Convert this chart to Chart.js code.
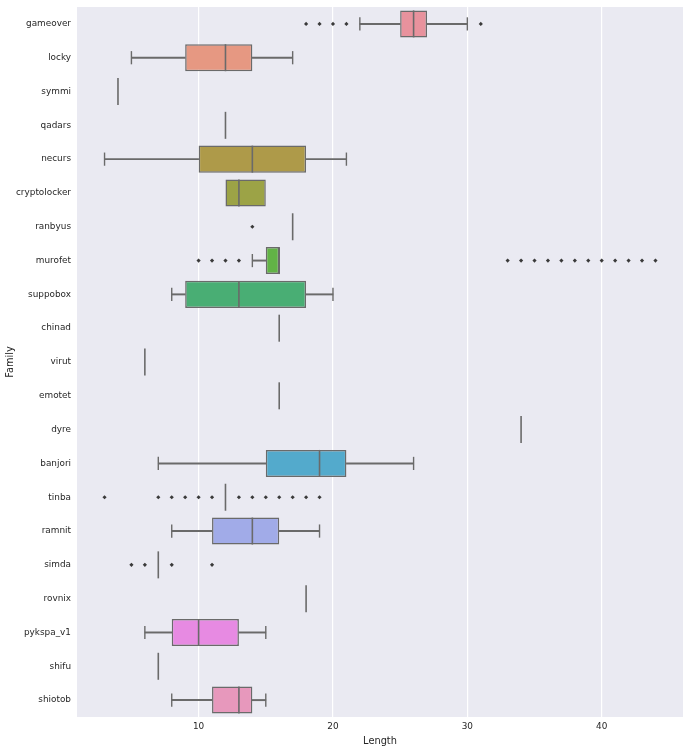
<!DOCTYPE html>
<html><head><meta charset="utf-8">
<script src="https://cdn.jsdelivr.net/npm/chart.js@4.4.1/dist/chart.umd.min.js"></script>
<style>html,body{margin:0;padding:0;background:#fff;} #wrap{width:690px;height:747px;}</style>
</head><body><div id="wrap"><canvas id="c" width="690" height="747"></canvas></div>
<script>
const families = ['gameover','locky','symmi','qadars','necurs','cryptolocker','ranbyus','murofet','suppobox','chinad','virut','emotet','dyre','banjori','tinba','ramnit','simda','rovnix','pykspa_v1','shifu','shiotob'];
const whiskerLow  = [22, 5, 4,12, 3,12,17,14, 8,16, 6,16,34, 7,12, 8, 7,18, 6, 7, 8];
const q1          = [25, 9, 4,12,10,12,17,15, 9,16, 6,16,34,15,12,11, 7,18, 8, 7,11];
const median      = [26,12, 4,12,14,13,17,16,13,16, 6,16,34,19,12,14, 7,18,10, 7,13];
const q3          = [27,14, 4,12,18,15,17,16,18,16, 6,16,34,21,12,16, 7,18,13, 7,14];
const whiskerHigh = [30,17, 4,12,21,15,17,16,20,16, 6,16,34,26,12,19, 7,18,15, 7,15];
const outliers = [
  [18,19,20,21,31], [], [], [], [], [], [14],
  [10,11,12,13,33,34,35,36,37,38,39,40,41,42,43,44],
  [], [], [], [], [], [],
  [3,7,8,9,10,11,13,14,15,16,17,18,19],
  [], [5,6,8,11], [], [], [], []
];
const xTicks = [10,20,30,40];
const boxColors = ['#E8929D','#E69882','#D9A05B','#C5A348','#AE9A49','#9CA346','#84AB44','#62B346','#49AE74','#4AAD8F','#4CACA0','#4DABAF','#50ABBE','#53AACC','#6FA6E0','#A1ABE8','#C0A2E6','#D897E4','#E78AE2','#E68DCE','#E798BC'];

const GRAY = '#6a6a6a';
const FONT = 'DejaVu Sans';

const boxData = families.map((f,i)=> q1[i] < q3[i] ? [q1[i], q3[i]] : null);
const lowWhisk = families.map((f,i)=> whiskerLow[i] < q1[i] ? [whiskerLow[i], q1[i]] : null);
const highWhisk = families.map((f,i)=> whiskerHigh[i] > q3[i] ? [q3[i], whiskerHigh[i]] : null);
const medianPts = families.map((f,i)=>({x: median[i], y: f}));
const capPts = [];
families.forEach((f,i)=>{
  if (whiskerLow[i] < q1[i] || whiskerHigh[i] > q3[i]) {
    capPts.push({x: whiskerLow[i], y: f});
    capPts.push({x: whiskerHigh[i], y: f});
  }
});
const outPts = families.flatMap((f,i)=> outliers[i].map(v=>({x: v, y: f})));

const bgPlugin = {
  id: 'bg',
  beforeDraw(chart){
    const {ctx, chartArea:{left,top,width,height}} = chart;
    ctx.save(); ctx.fillStyle = '#EAEAF2'; ctx.fillRect(left, top, width, height); ctx.restore();
  }
};

new Chart(document.getElementById('c'), {
  type: 'bar',
  data: {
    labels: families,
    datasets: [
      {type:'scatter', data: medianPts, pointStyle:'line', rotation:90, radius:13.5, hoverRadius:13.5, borderColor:GRAY, borderWidth:1.6, order:1},
      {type:'scatter', data: capPts, pointStyle:'line', rotation:90, radius:6.6, hoverRadius:6.6, borderColor:GRAY, borderWidth:1.4, order:1},
      {type:'scatter', data: outPts, pointStyle:'rectRot', radius:2.1, hoverRadius:2.1, backgroundColor:'#3a3a3a', borderColor:'#3a3a3a', borderWidth:0, order:1},
      {data: boxData, backgroundColor: boxColors, borderColor: GRAY, borderWidth: 1.5, borderSkipped: false, barPercentage: 0.8, categoryPercentage: 1.0, grouped: false, order: 3},
      {data: lowWhisk, backgroundColor: GRAY, borderWidth: 0, barThickness: 1.3, grouped: false, order: 4},
      {data: highWhisk, backgroundColor: GRAY, borderWidth: 0, barThickness: 1.3, grouped: false, order: 4}
    ]
  },
  plugins: [bgPlugin],
  options: {
    indexAxis: 'y',
    responsive: false,
    animation: false,
    layout: {autoPadding: false, padding: {top: 7, right: 7, left: 5, bottom: 0}},
    plugins: {legend: {display: false}, tooltip: {enabled: false}},
    scales: {
      x: {
        type: 'linear', min: 0.95, max: 46.05,
        afterBuildTicks: (s) => { s.ticks = xTicks.map(v => ({value: v})); },
        afterFit: (s) => { s.height = 30; s.paddingLeft = 0; s.paddingRight = 0; },
        grid: {color: '#ffffff', lineWidth: 1.2, drawTicks: false},
        border: {display: false},
        ticks: {color: '#262626', font: {family: FONT, size: 8.9}, padding: 4},
        title: {display: true, text: 'Length', color: '#262626', font: {family: FONT, size: 9.8}, padding: {top: 0, bottom: 0}}
      },
      y: {
        type: 'category',
        afterFit: (s) => { s.width = 72; s.paddingTop = 0; s.paddingBottom = 0; },
        grid: {display: false, drawTicks: false},
        border: {display: false},
        ticks: {color: '#262626', font: {family: FONT, size: 8.9}, padding: 6},
        title: {display: true, text: 'Family', color: '#262626', font: {family: FONT, size: 9.8}, padding: {top: 0, bottom: 0}}
      }
    }
  }
});
</script>
</body></html>
